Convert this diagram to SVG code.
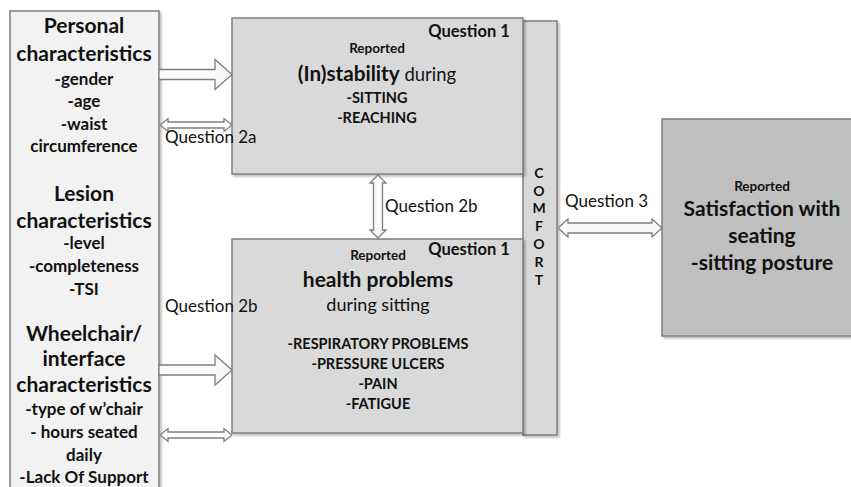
<svg xmlns="http://www.w3.org/2000/svg" width="851" height="487" viewBox="0 0 851 487">
<defs>
<filter id="sh" x="-5%" y="-5%" width="115%" height="115%"><feDropShadow dx="2" dy="2" stdDeviation="1.2" flood-color="#000" flood-opacity="0.25"/></filter>
</defs>
<style>
text{font-family:Lato,"Open Sans","Liberation Sans",sans-serif;fill:#111;text-anchor:middle}
.b{font-weight:bold}
.box{stroke:#7f7f7f;stroke-width:1.5;filter:url(#sh)}
.arr{fill:#fafafa;stroke:#7f7f7f;stroke-width:1.3;stroke-linejoin:miter}
.h{font-size:21px;font-weight:bold}
.r{font-size:17px;font-weight:bold}
.q{font-size:17px;text-anchor:start}
.q1{font-size:16.5px;font-weight:bold}
.s{font-size:14.5px;font-weight:bold}
.c{font-size:13.5px;font-weight:bold}
.l{font-size:14px;font-weight:bold}
</style>
<rect width="851" height="487" fill="#fff"/>
<g id="personal">
<rect class="box" x="10" y="11" width="149" height="490" fill="#f2f2f2"/>
<text x="84" y="33" class="h">Personal</text>
<text x="84" y="61" class="h">characteristics</text>
<text x="84" y="85" class="r">-gender</text>
<text x="84" y="107" class="r">-age</text>
<text x="84" y="130" class="r">-waist</text>
<text x="84" y="152" class="r">circumference</text>
<text x="84" y="201" class="h">Lesion</text>
<text x="84" y="228" class="h">characteristics</text>
<text x="84" y="249" class="r">-level</text>
<text x="84" y="272" class="r">-completeness</text>
<text x="84" y="295" class="r">-TSI</text>
<text x="84" y="341" class="h">Wheelchair/</text>
<text x="84" y="366" class="h">interface</text>
<text x="84" y="392" class="h">characteristics</text>
<text x="84" y="415" class="r">-type of w’chair</text>
<text x="84" y="438" class="r">- hours seated</text>
<text x="84" y="461" class="r">daily</text>
<text x="84" y="483" class="r">-Lack Of Support</text>
</g>
<g id="comfort">
<rect class="box" x="523" y="21" width="34" height="414" fill="#d9d9d9"/>
<text x="539" y="178" class="l">C</text>
<text x="539" y="196" class="l">O</text>
<text x="539" y="213" class="l">M</text>
<text x="539" y="231" class="l">F</text>
<text x="539" y="249" class="l">O</text>
<text x="539" y="267" class="l">R</text>
<text x="539" y="285" class="l">T</text>
</g>
<g id="instability">
<rect class="box" x="232" y="18" width="291" height="156" fill="#d9d9d9"/>
<text x="469" y="37" class="q1">Question 1</text>
<text x="377" y="53" class="c">Reported</text>
<text x="377" y="81"><tspan font-size="20.7" font-weight="bold">(In)stability</tspan><tspan font-size="18.5"> during</tspan></text>
<text x="377" y="103" class="s">-SITTING</text>
<text x="377" y="123" class="s">-REACHING</text>
</g>
<g id="health">
<rect class="box" x="232" y="239" width="291" height="194" fill="#d9d9d9"/>
<text x="469" y="255" class="q1">Question 1</text>
<text x="378" y="260" class="c">Reported</text>
<text x="378" y="287" style="font-size:21px;font-weight:bold">health problems</text>
<text x="378" y="311" style="font-size:18px">during sitting</text>
<text x="378" y="349" class="s">-RESPIRATORY PROBLEMS</text>
<text x="378" y="369" class="s">-PRESSURE ULCERS</text>
<text x="378" y="389" class="s">-PAIN</text>
<text x="378" y="409" class="s">-FATIGUE</text>
</g>
<g id="satisfaction">
<rect class="box" x="662" y="119" width="195" height="217" fill="#bfbfbf"/>
<text x="762" y="191" class="c">Reported</text>
<text x="762" y="216" class="h">Satisfaction with</text>
<text x="762" y="243" class="h">seating</text>
<text x="762" y="270" class="h">-sitting posture</text>
</g>
<g id="connectors">
<path class="arr" d="M159,69.5 H215 V59.5 L232,74.5 L215,89.5 V79.5 H159 Z"/>
<path class="arr" d="M160,125 L168,118.5 V122 H224 V118.5 L232,125 L224,131.5 V128 H168 V131.5 Z"/>
<path class="arr" d="M159,365 H215 V355 L232,370 L215,385 V375 H159 Z"/>
<path class="arr" d="M160,435 L168,428.5 V432 H224 V428.5 L232,435 L224,441.5 V438 H168 V441.5 Z"/>
<path class="arr" d="M378,175 L386,183 H382.5 V230 H386 L378,238 L370,230 H373.5 V183 H370 Z"/>
<path class="arr" d="M558,228 L568,219 V223 H652 V219 L662,228 L652,237 V233 H568 V237 Z"/>
<text x="165" y="143" class="q">Question 2a</text>
<text x="385" y="212" class="q">Question 2b</text>
<text x="165" y="312" class="q">Question 2b</text>
<text x="565" y="207" class="q">Question 3</text>
</g>
</svg>
